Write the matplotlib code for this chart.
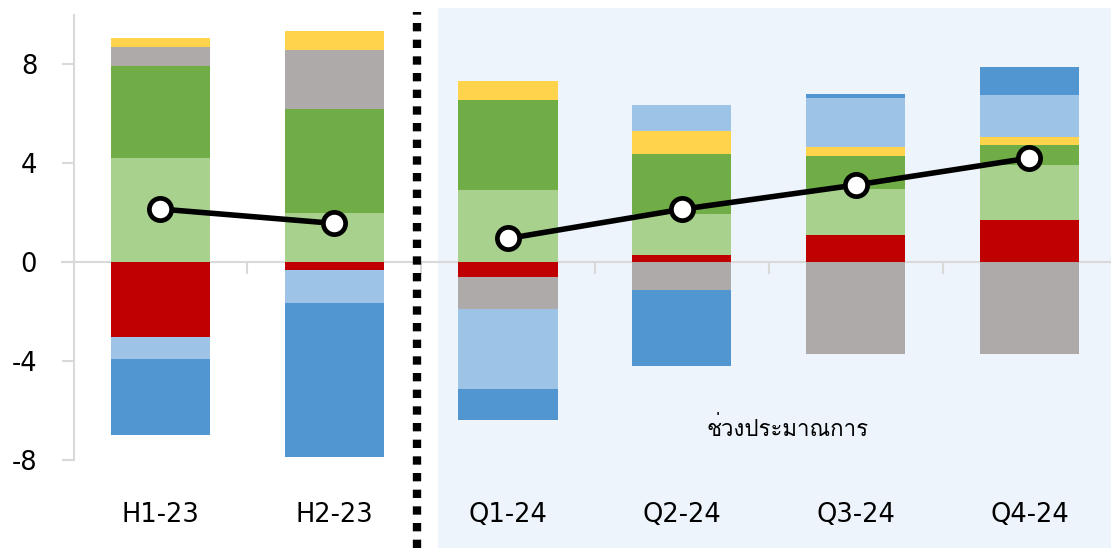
import matplotlib
matplotlib.use("Agg")
import matplotlib.pyplot as plt
import numpy as np
from matplotlib import font_manager
from matplotlib.ft2font import FT2Font
from matplotlib.lines import Line2D
from matplotlib.patches import Rectangle

# ---- data ----
periods = ["H1-23", "H2-23", "Q1-24", "Q2-24", "Q3-24", "Q4-24"]
n_actual = 2  # first two periods are actuals, the rest is the forecast

red_vals    = [-3.04, -0.32, -0.62, 0.28, 1.09, 1.68]
lgreen_vals = [4.20, 1.99, 2.92, 1.65, 1.85, 2.23]
green_vals  = [3.72, 4.20, 3.63, 2.43, 1.34, 0.81]
gray_vals   = [0.77, 2.39, -1.26, -1.12, -3.70, -3.70]
yellow_vals = [0.37, 0.75, 0.75, 0.92, 0.38, 0.32]
lblue_vals  = [-0.88, -1.34, -3.26, 1.08, 1.95, 1.72]
blue_vals   = [-3.07, -6.21, -1.23, -3.09, 0.19, 1.12]

total_line = [2.14, 1.56, 0.95, 2.13, 3.11, 4.20]

yticks = [-8, -4, 0, 4, 8]
forecast_label = "ช่วงประมาณการ"

series = [
    (red_vals,    "#C00000"),
    (lgreen_vals, "#A9D18E"),
    (green_vals,  "#70AD47"),
    (gray_vals,   "#AEAAAA"),
    (yellow_vals, "#FFD34C"),
    (lblue_vals,  "#9DC3E6"),
    (blue_vals,   "#5195D1"),
]

GRID = "#D9D9D9"
SHADE = "#EEF4FB"


def find_thai_font():
    # pick the first installed font that has Thai glyphs
    for f in font_manager.fontManager.ttflist:
        try:
            if 0x0E0A in FT2Font(f.fname).get_charmap():
                return f.name
        except Exception:
            continue
    return "DejaVu Sans"


thai_font = find_thai_font()
plt.rcParams["font.family"] = ["DejaVu Sans"]

fig = plt.figure(figsize=(11.11, 5.48), dpi=100)
W, H = 1111, 548

# forecast shading (spans beyond the plot area)
fig.patches.append(Rectangle((437.7 / W, 0), 1 - 437.7 / W, (H - 7.7) / H,
                             transform=fig.transFigure, facecolor=SHADE,
                             edgecolor="none", zorder=-5))

ax = fig.add_axes([73.5 / W, (H - 460) / H, 1 - 73.5 / W, (460 - 14.5) / H])
ax.set_facecolor("none")
ax.set_zorder(1)

x = np.arange(len(periods))
pos_bottom = np.zeros(len(periods))
neg_bottom = np.zeros(len(periods))
for vals, color in series:
    v = np.array(vals)
    bottom = np.where(v >= 0, pos_bottom, neg_bottom)
    ax.bar(x, v, width=0.57, bottom=bottom, color=color, zorder=2)
    pos_bottom = pos_bottom + np.where(v >= 0, v, 0)
    neg_bottom = neg_bottom + np.where(v < 0, v, 0)

# total line, broken between actuals and forecast
line_kw = dict(color="black", lw=4, marker="o", markersize=16,
               markerfacecolor="white", markeredgecolor="black",
               markeredgewidth=3.4, zorder=5)
ax.plot(x[:n_actual], total_line[:n_actual], **line_kw)
ax.plot(x[n_actual:], total_line[n_actual:], **line_kw)

# zero line and category dividers
ax.axhline(0, color=GRID, lw=1.5, zorder=1, xmin=-12 / (W - 73.5), clip_on=False)
bounds = np.arange(len(periods) - 1) + 0.5
ax.plot(bounds, np.zeros(len(bounds)), linestyle="none", marker=3,
        markersize=8.6, markeredgewidth=1.5, color=GRID, zorder=1)

ax.set_xlim(-0.5, (W - 73.5) / 173.8 - 0.5)
ax.set_ylim(-8, 10)
ax.set_yticks(yticks)
ax.set_yticklabels([str(t) for t in yticks], fontsize=18.5)
ax.set_xticks(x)
ax.set_xticklabels(periods, fontsize=18.5)

for side in ["top", "right", "bottom"]:
    ax.spines[side].set_visible(False)
ax.spines["left"].set_color(GRID)
ax.spines["left"].set_linewidth(1.5)
ax.tick_params(axis="y", length=8.6, width=1.5, color=GRID, pad=17.5)
ax.tick_params(axis="x", length=0, pad=30)

ax.text(2.0 + (788 - 508.2) / 173.8, -6.75, forecast_label, fontsize=16,
        family=[thai_font, "DejaVu Sans"], ha="center", va="center")

# dotted divider between actual and forecast
fig.lines.append(Line2D([417.3 / W, 417.3 / W], [0, (H - 12) / H],
                        transform=fig.transFigure, color="black", lw=6,
                        dashes=(1, 1), solid_capstyle="butt",
                        dash_capstyle="butt", zorder=3))

fig.savefig("out.png", dpi=100)
